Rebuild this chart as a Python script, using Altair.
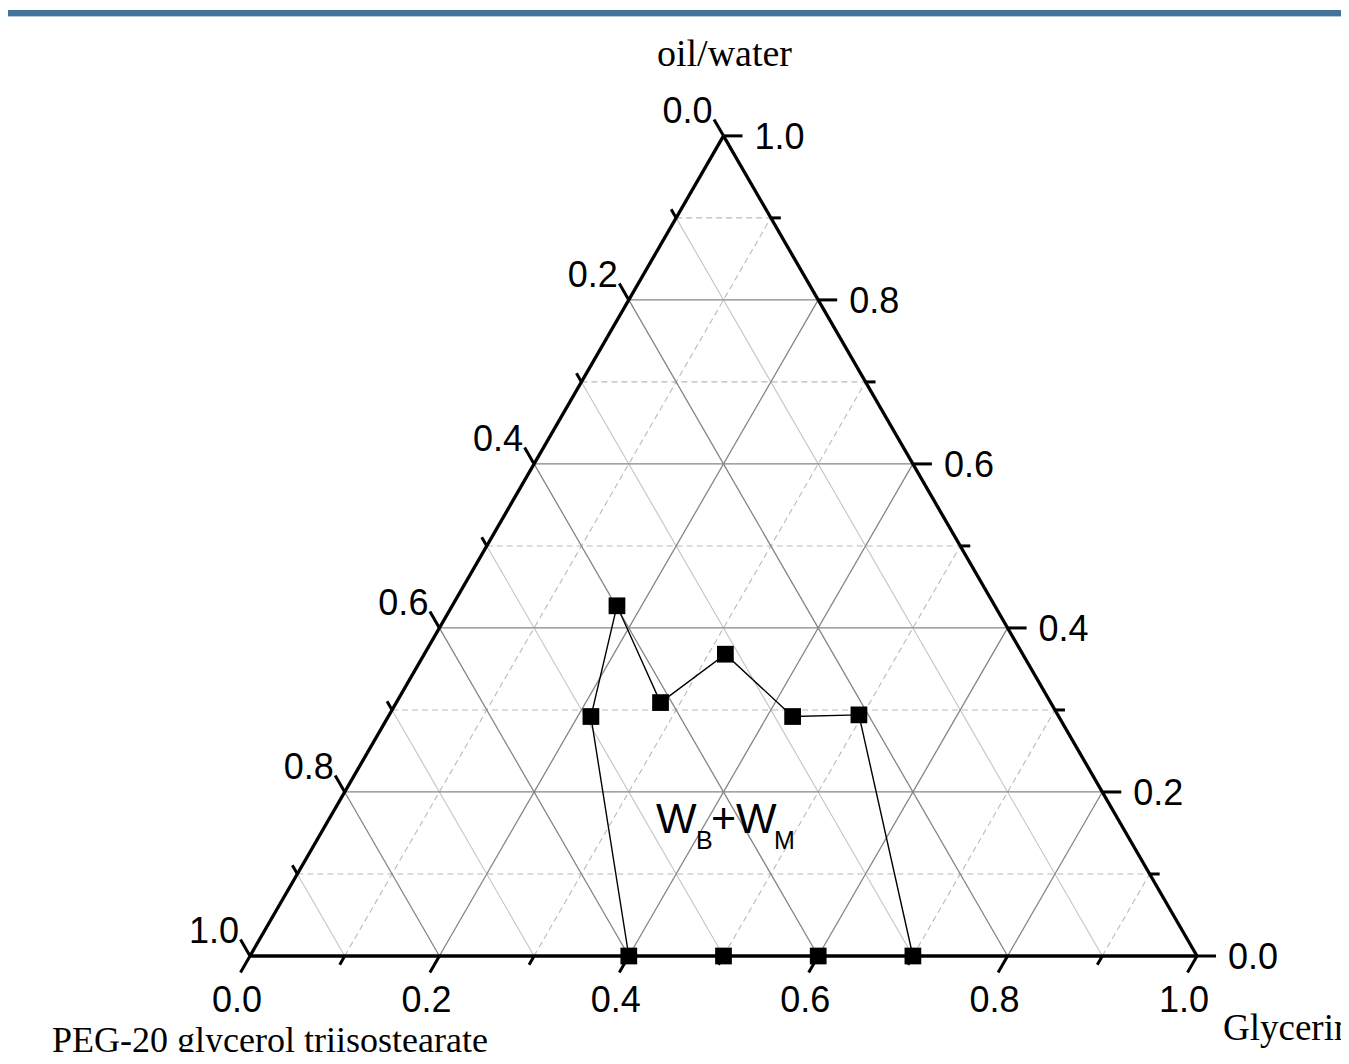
import math
import altair as alt
import pandas as pd

# ---------------- data ----------------
major_ticks = [0.0, 0.2, 0.4, 0.6, 0.8, 1.0]
major_labels = ["0.0", "0.2", "0.4", "0.6", "0.8", "1.0"]
minor_ticks = [0.1, 0.3, 0.5, 0.7, 0.9]
grid_major = [0.2, 0.4, 0.6, 0.8]
grid_minor = [0.1, 0.3, 0.5, 0.7, 0.9]

# phase boundary (Glycerin fraction, oil/water fraction), in drawing order
boundary_glycerin = [0.40, 0.214, 0.174, 0.279, 0.318, 0.427, 0.496, 0.70]
boundary_oil = [0.0, 0.292, 0.427, 0.309, 0.368, 0.292, 0.294, 0.0]
# extra measured points on the base line
extra_glycerin = [0.50, 0.60]
extra_oil = [0.0, 0.0]

top_title = "oil/water"
left_title = "PEG-20 glycerol triisostearate"
right_title = "Glycerin"
region_parts = ["W", "B", "+W", "M"]

# ---------------- layout ----------------
W, H = 1333, 1044          # view size (page origin at 8,8)
S = 947.0                  # pixels per unit side length
VX, VY = 250.0, 956.0      # page pixel of bottom-left vertex
xdom = [(8 - VX) / S, (8 + W - VX) / S]
y0 = (VY - 8 - H) / S
ydom = [y0, y0 + H / S]
xs = alt.Scale(domain=xdom, nice=False, zero=False)
ys = alt.Scale(domain=ydom, nice=False, zero=False)

XCALC = "datum.g + datum.o / 2"
YCALC = "datum.o * sqrt(3) / 2"


def X(f="x"):
    return alt.X(f"{f}:Q", scale=xs, axis=None)


def Y(f="y"):
    return alt.Y(f"{f}:Q", scale=ys, axis=None)


# grid segments
rows = []
for v in grid_major + grid_minor:
    kind_major = v in grid_major
    rows.append(dict(g=0.0, o=v, g2=1 - v, o2=v, style="major" if kind_major else "dash"))
    rows.append(dict(g=v, o=0.0, g2=v, o2=1 - v, style="major" if kind_major else "dash"))
    rows.append(dict(g=1 - v, o=0.0, g2=0.0, o2=1 - v, style="major" if kind_major else "light"))
grid = pd.DataFrame(rows)


def seg_layer(df, color, width, dash=None):
    kw = dict(color=color, strokeWidth=width)
    if dash:
        kw["strokeDash"] = dash
    return (
        alt.Chart(df)
        .mark_rule(**kw)
        .transform_calculate(
            x=XCALC, y=YCALC,
            x2="datum.g2 + datum.o2 / 2", y2="datum.o2 * sqrt(3) / 2",
        )
        .encode(x=X(), y=Y(), x2="x2:Q", y2="y2:Q")
    )


grid_light = seg_layer(grid[grid["style"] == "light"], "#c4c4c4", 1.1)
grid_dash = seg_layer(grid[grid["style"] == "dash"], "#bababa", 1.1, [6, 4])
grid_maj = seg_layer(grid[grid["style"] == "major"], "#858585", 1.3)

# triangle frame
frame = pd.DataFrame([
    dict(g=0.0, o=0.0, g2=1.0, o2=0.0),
    dict(g=1.0, o=0.0, g2=0.0, o2=1.0),
    dict(g=0.0, o=1.0, g2=0.0, o2=0.0),
])
frame_layer = seg_layer(frame, "black", 3.3)

# ticks
trows = []
for ticks, L in ((major_ticks, 19.0), (minor_ticks, 10.0)):
    for v in ticks:
        trows.append(dict(g=v, o=0.0, dx=-0.5, dy=-math.sqrt(3) / 2, L=L))
        trows.append(dict(g=0.0, o=1 - v, dx=-0.5, dy=math.sqrt(3) / 2, L=L))
        trows.append(dict(g=1 - v, o=v, dx=1.0, dy=0.0, L=L))
tick_df = pd.DataFrame(trows)
tick_layer = (
    alt.Chart(tick_df)
    .mark_rule(color="black", strokeWidth=3.0)
    .transform_calculate(x=XCALC, y=YCALC)
    .transform_calculate(x2=f"datum.x + datum.dx * datum.L / {S}",
                         y2=f"datum.y + datum.dy * datum.L / {S}")
    .encode(x=X(), y=Y(), x2="x2:Q", y2="y2:Q")
)

# tick labels
lab = pd.DataFrame(dict(v=major_ticks, t=major_labels))
label_font = "Liberation Sans"


def label_layer(gexpr, oexpr, align, dx, dy):
    return (
        alt.Chart(lab)
        .mark_text(font=label_font, fontSize=36, align=align, baseline="alphabetic",
                   dx=dx, dy=dy, color="black")
        .transform_calculate(g=gexpr, o=oexpr)
        .transform_calculate(x=XCALC, y=YCALC)
        .encode(x=X(), y=Y(), text="t:N")
    )


bottom_labels = label_layer("datum.v", "0", "center", -13, 56)
left_labels = label_layer("0", "1 - datum.v", "right", -11, -13)
right_labels = label_layer("1 - datum.v", "datum.v", "left", 31, 13)

# axis titles
def title_layer(text, g, o, align, dx, dy, fs=37):
    return (
        alt.Chart(pd.DataFrame(dict(g=[g], o=[o], t=[text])))
        .mark_text(font="Liberation Serif", fontSize=fs, align=align, baseline="alphabetic",
                   dx=dx, dy=dy, color="black")
        .transform_calculate(x=XCALC, y=YCALC)
        .encode(x=X(), y=Y(), text="t:N")
    )


t_top = title_layer(top_title, 0.0, 1.0, "center", 1, -70, 38)
t_left = title_layer(left_title, 0.0, 0.0, "left", -198, 96, 36)
t_right = title_layer(right_title, 1.0, 0.0, "left", 26, 84)

# boundary line and points
bdf = pd.DataFrame(dict(g=boundary_glycerin, o=boundary_oil, k=list(range(len(boundary_oil)))))
edf = pd.DataFrame(dict(g=extra_glycerin, o=extra_oil))
line = (
    alt.Chart(bdf).mark_line(color="black", strokeWidth=1.4)
    .transform_calculate(x=XCALC, y=YCALC)
    .encode(x=X(), y=Y(), order="k:Q")
)
pts = (
    alt.Chart(pd.concat([bdf[["g", "o"]], edf], ignore_index=True))
    .mark_point(shape="square", filled=True, size=280, color="black", opacity=1)
    .transform_calculate(x=XCALC, y=YCALC)
    .encode(x=X(), y=Y())
)

# region label W_B + W_M  (anchor in cartesian units, parts offset in px)
reg = pd.DataFrame(dict(
    t=region_parts,
    fs=[43, 25, 43, 25],
    ox=[0, 40, 55, 118],
    oy=[0, 16, 0, 16],
))
reg_x = (656 - VX) / S
reg_y = (VY - 833) / S
region = (
    alt.Chart(reg)
    .mark_text(font=label_font, align="left", baseline="alphabetic", color="black")
    .transform_calculate(x=f"{reg_x} + datum.ox / {S}", y=f"{reg_y} - datum.oy / {S}")
    .encode(x=X(), y=Y(), text="t:N", size=alt.Size("fs:Q", scale=None, legend=None))
)

# decorative header bar
bar_df = pd.DataFrame(dict(a=[0]))
bar = alt.Chart(bar_df).mark_rect(color="#44729e").encode(
    x=alt.value(-8), x2=alt.value(W + 8), y=alt.value(2), y2=alt.value(8))
bar2 = alt.Chart(bar_df).mark_rect(color="#b4c7da").encode(
    x=alt.value(-8), x2=alt.value(W + 8), y=alt.value(8), y2=alt.value(9))

chart = (
    alt.layer(
        bar, bar2,
        grid_light, grid_dash, grid_maj,
        frame_layer, tick_layer,
        bottom_labels, left_labels, right_labels,
        t_top, t_left, t_right,
        line, pts, region,
    )
    .properties(width=W, height=H, autosize=alt.AutoSizeParams(type="none"), padding=0)
    .configure_view(stroke=None)
)

chart.save("out.html", embed_options={"renderer": "svg", "actions": False})
